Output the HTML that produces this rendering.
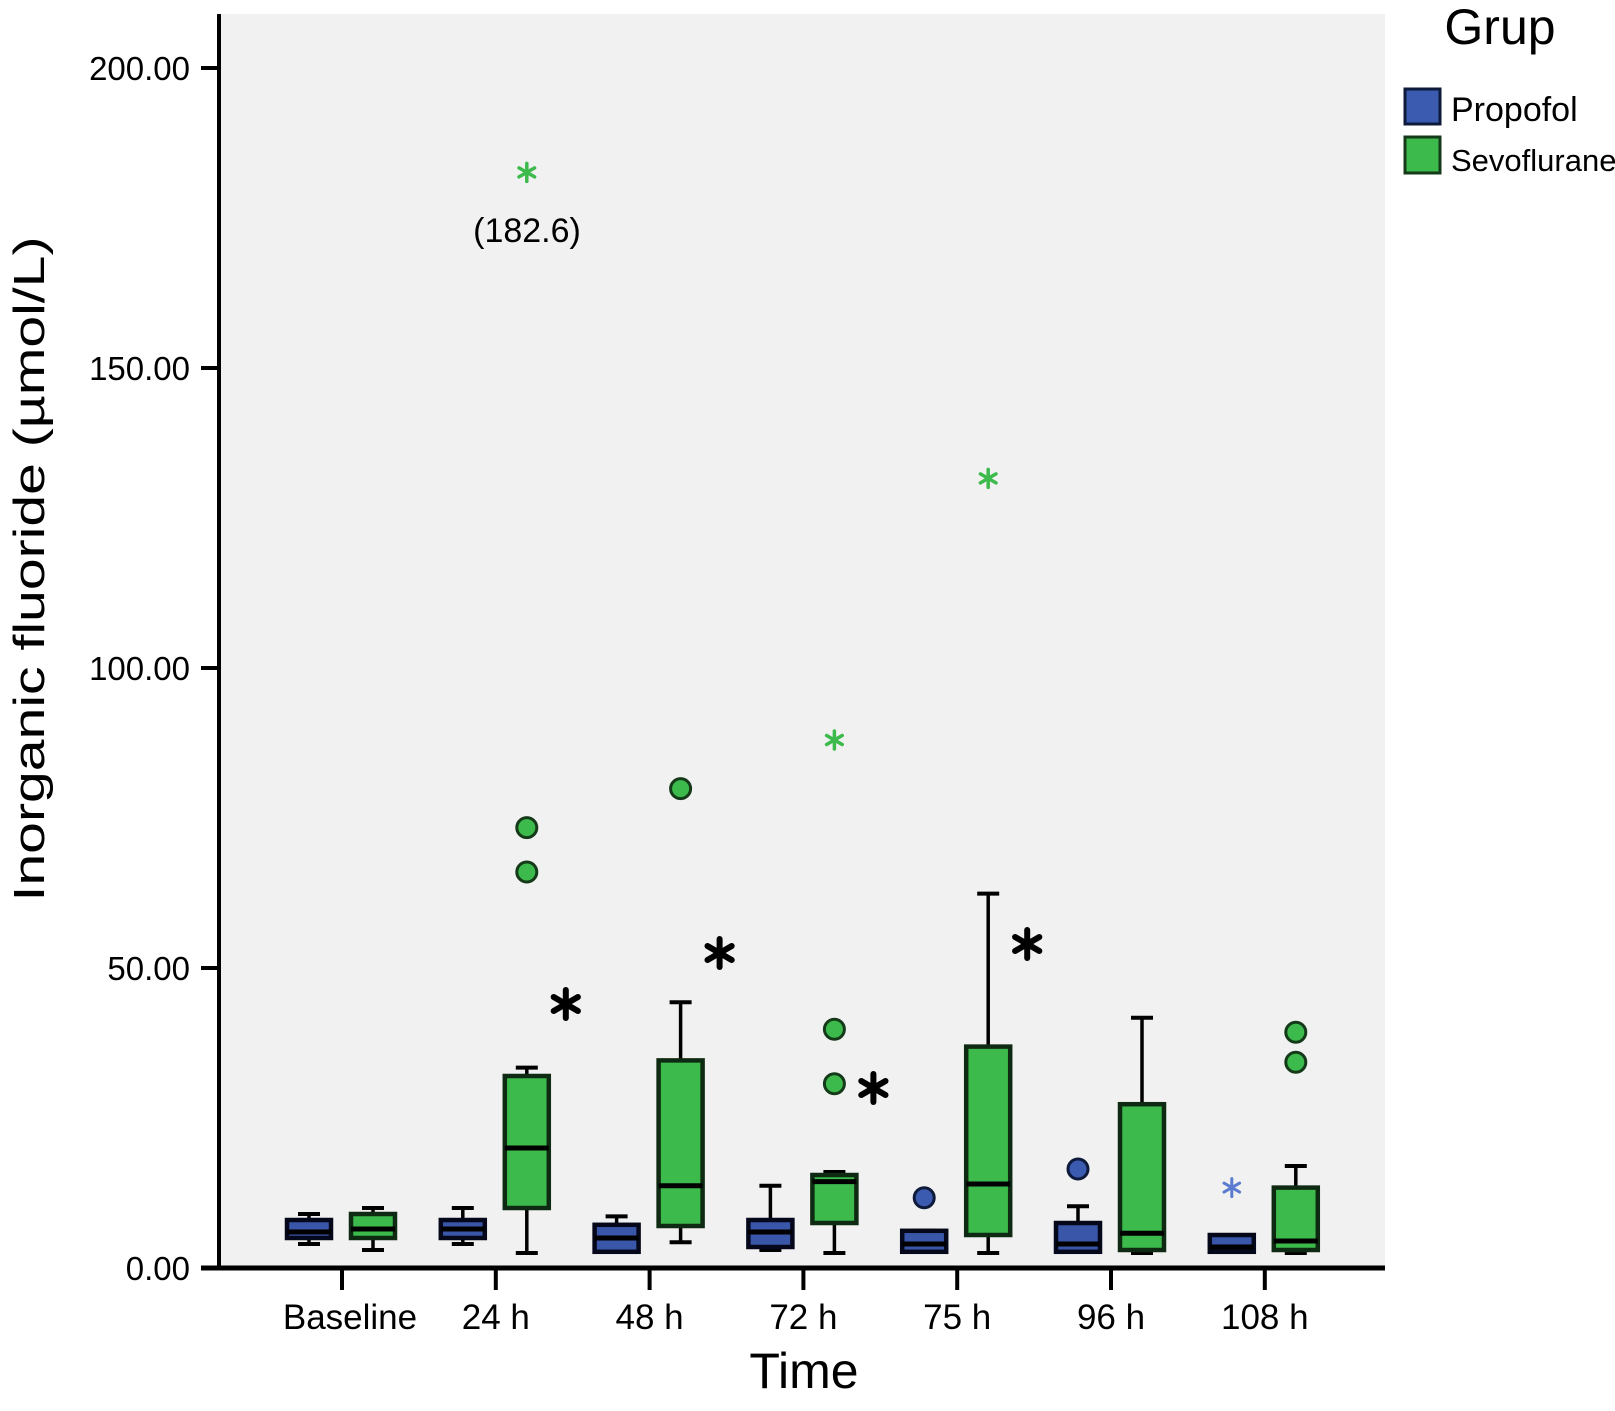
<!DOCTYPE html>
<html><head><meta charset="utf-8"><style>
html,body{margin:0;padding:0;background:#fff;}
svg{display:block;font-family:"Liberation Sans",sans-serif;}
</style></head><body>
<svg id="chart" width="1615" height="1411" viewBox="0 0 1615 1411">
<rect x="219" y="14" width="1166" height="1254" fill="#f1f1f1"/>
<g id="marks"></g>
<line x1="219" y1="14" x2="219" y2="1270" stroke="#000" stroke-width="4"/>
<line x1="201" y1="1268" x2="1385" y2="1268" stroke="#000" stroke-width="5"/>
<g id="axes"></g>
<text x="30" y="569" font-size="44" text-anchor="middle" textLength="665" lengthAdjust="spacingAndGlyphs" transform="rotate(-90 30 569) translate(0 14)">Inorganic fluoride (µmol/L)</text>
<text x="804" y="1388" font-size="50" text-anchor="middle">Time</text>
<text x="1500" y="44" font-size="50" text-anchor="middle">Grup</text>
<g>
<rect x="1405" y="89" width="35" height="35" fill="#3b5bb0" stroke="#0d1a3a" stroke-width="3"/>
<text x="1451" y="121" font-size="34">Propofol</text></g>
<g>
<rect x="1405" y="137" width="35" height="36" fill="#3cba4c" stroke="#153a1a" stroke-width="3"/>
<text x="1451" y="171" font-size="31">Sevoflurane</text></g>
<text x="527" y="242" font-size="34" text-anchor="middle">(182.6)</text>
</svg>
<script>
const categories = ["Baseline","24 h","48 h","72 h","75 h","96 h","108 h"];
const yTicks = [0,50,100,150,200];
const yTickLabels = ["0.00","50.00","100.00","150.00","200.00"];
// [low whisker, Q1, median, Q3, high whisker]
const propofolBoxes = [[4,5,6,8,9],[4,5,6.5,8,10],[2.7,2.7,5,7.2,8.6],[3,3.5,6,8,13.7],[2.7,2.7,4,6.2,6.2],[2.7,2.7,4,7.5,10.3],[2.7,2.7,3.5,5.5,5.5]];
const sevoBoxes = [[3,5,6.5,9,10],[2.5,10,20,32,33.4],[4.3,7,13.7,34.6,44.3],[2.5,7.5,14.4,15.5,16],[2.5,5.5,14,36.9,62.4],[2.5,3,5.8,27.3,41.7],[2.5,3,4.5,13.4,17]];
const propofolCircles = [[],[],[],[],[11.7],[16.5],[]];
const propofolStars = [[],[],[],[],[],[],[13.4]];
const sevoCircles = [[],[73.4,66],[79.9],[39.8,30.7],[],[],[39.3,34.3]];
const sevoStars = [[],[182.6],[],[88],[131.6],[],[]];
const sigCategories = [1,2,3,4];
const sigValues = [44,52.5,30,54];

const NS="http://www.w3.org/2000/svg";
const y = v => 1268 - v*6;
const x = i => 342 + i*153.8;
function mk(tag, attrs, parent){const e=document.createElementNS(NS,tag);for(const k in attrs)e.setAttribute(k,attrs[k]);parent.appendChild(e);return e;}
const axes=document.getElementById('axes'), marks=document.getElementById('marks');
yTicks.forEach((t,i)=>{
  const l=mk('line',{x1:201,x2:219,y1:y(t),y2:y(t),stroke:'#000','stroke-width':4},axes);
  
  
  const tx=mk('text',{x:190,y:y(t)+12,'font-size':33,'text-anchor':'end'},axes);
  tx.textContent=yTickLabels[i];
  
  
});
categories.forEach((c,i)=>{
  const l=mk('line',{x1:x(i),x2:x(i),y1:1268,y2:1290,stroke:'#000','stroke-width':4},axes);
  
  
  const tx=mk('text',{x:x(i)+(i===0?8:0),y:1329,'font-size':35,'text-anchor':'middle'},axes);
  tx.textContent=c;
  
  
});
function star(cx,cy,r,color,sw){
  const g=mk('g',{stroke:color,'stroke-width':sw,'stroke-linecap':'round'},marks);
  for(let k=0;k<3;k++){const a=Math.PI/2+k*Math.PI/3;
    mk('line',{x1:cx-r*Math.cos(a),y1:cy-r*Math.sin(a),x2:cx+r*Math.cos(a),y2:cy+r*Math.sin(a)},g);}
  return g;
}
function drawBox(cx,b,fill,stroke,name){
  const g=mk('g',{},marks);
  
  
  const w=44;
  mk('line',{x1:cx,x2:cx,y1:y(b[0]),y2:y(b[4]),stroke:'#000','stroke-width':3.5},g);
  mk('line',{x1:cx-11,x2:cx+11,y1:y(b[0]),y2:y(b[0]),stroke:'#000','stroke-width':4},g);
  mk('line',{x1:cx-11,x2:cx+11,y1:y(b[4]),y2:y(b[4]),stroke:'#000','stroke-width':4},g);
  mk('rect',{x:cx-w/2,y:y(b[3]),width:w,height:Math.max(y(b[1])-y(b[3]),2),fill:fill,stroke:stroke,'stroke-width':4.5},g);
  mk('line',{x1:cx-w/2,x2:cx+w/2,y1:y(b[2]),y2:y(b[2]),stroke:'#000','stroke-width':5},g);
}
categories.forEach((c,i)=>{
  const px=x(i)-33, sx=x(i)+31;
  drawBox(px,propofolBoxes[i],'#3a56a8','#05081a','box-propofol-'+i);
  drawBox(sx,sevoBoxes[i],'#3cba4c','#0f2a12','box-sevoflurane-'+i);
  propofolCircles[i].forEach(v=>{const e=mk('circle',{cx:px,cy:y(v),r:10,fill:'#3b5bb0',stroke:'#0d1a3a','stroke-width':3},marks);
    
    });
  sevoCircles[i].forEach(v=>{const e=mk('circle',{cx:sx,cy:y(v),r:10,fill:'#3cba4c',stroke:'#153a1a','stroke-width':3},marks);
    
    });
  propofolStars[i].forEach(v=>{const e=star(px,y(v),9,'#5a7bd0',3);
    
    });
  sevoStars[i].forEach(v=>{const e=star(sx,y(v),9,'#3cba4c',3.5);
    
    });
});
sigCategories.forEach((ci,k)=>{
  const e=star(x(ci)+70,y(sigValues[k]),14,'#000',6);
  
  
});
</script>
</body></html>
